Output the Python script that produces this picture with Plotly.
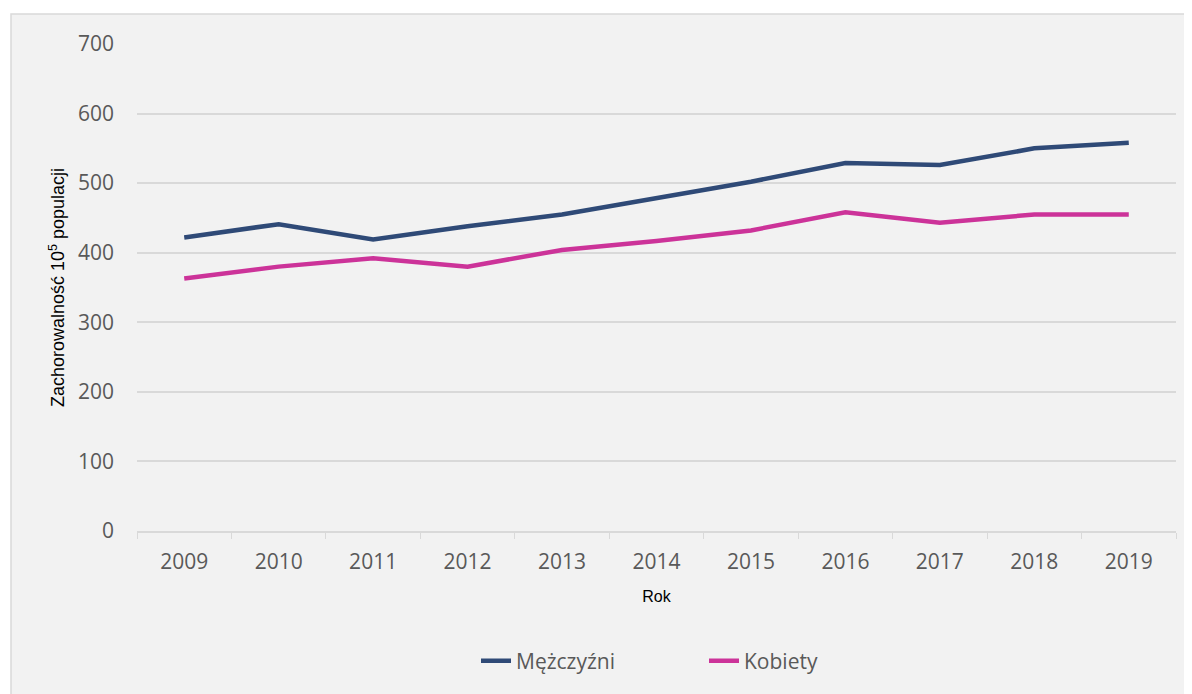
import plotly.graph_objects as go

years = ["2009", "2010", "2011", "2012", "2013", "2014", "2015", "2016", "2017", "2018", "2019"]
men = [422, 441, 419, 438, 455, 478, 502, 529, 526, 550, 558]
women = [363, 380, 392, 380, 404, 417, 432, 458, 443, 455, 455]
y_ticks = [0, 100, 200, 300, 400, 500, 600, 700]

MEN_COLOR = "#2F4A77"
WOMEN_COLOR = "#CC3399"

fig = go.Figure()
fig.add_trace(go.Scatter(x=years, y=men, mode="lines", name="Mężczyźni",
                         line=dict(color=MEN_COLOR, width=4.5)))
fig.add_trace(go.Scatter(x=years, y=women, mode="lines", name="Kobiety",
                         line=dict(color=WOMEN_COLOR, width=4.5)))

OFF = 8  # page body margin
W, H = 1192 - OFF, 694 - OFF
L, R, T, B = 137 - OFF, 16, 44 - OFF, 163
pw, ph = W - L - R, H - T - B

def px2paper_x(px):
    return (px - OFF - L) / pw

def px2paper_y(py):
    return (H - B - (py - OFF)) / ph

fig.add_shape(type="rect", xref="paper", yref="paper",
              x0=px2paper_x(11), x1=px2paper_x(1200),
              y0=px2paper_y(700), y1=px2paper_y(14),
              fillcolor="#F2F2F2", line=dict(color="#D9D9D9", width=1.5),
              layer="below")

fig.update_layout(
    width=W, height=H,
    margin=dict(l=L, r=R, t=T, b=B),
    paper_bgcolor="white",
    plot_bgcolor="rgba(0,0,0,0)",
    font=dict(family="Open Sans, Liberation Sans, sans-serif", color="#595959"),
    showlegend=True,
    legend=dict(orientation="h", x=px2paper_x(476), xanchor="left",
                y=px2paper_y(661), yanchor="middle",
                font=dict(size=21, color="#595959"),
                bgcolor="rgba(0,0,0,0)", entrywidth=183, entrywidthmode="pixels",
                tracegroupgap=0),
    xaxis=dict(
        type="category", range=[-0.5, 10.5],
        tickson="boundaries", ticks="outside", ticklen=6, tickcolor="#D9D9D9",
        showline=True, linecolor="#D9D9D9", linewidth=1.5,
        showgrid=False, zeroline=False,
        tickfont=dict(size=21, color="#595959"),
        ticklabelstandoff=11,
        title=dict(text="Rok", standoff=17,
                   font=dict(family="Liberation Sans, sans-serif", size=16, color="black")),
    ),
    yaxis=dict(
        range=[0, 700], tickvals=y_ticks,
        showgrid=True, gridcolor="#D9D9D9", gridwidth=1.5,
        zeroline=False, showline=False, ticks="",
        tickfont=dict(size=21, color="#595959"),
        ticklabelstandoff=22,
        title=dict(text="Zachorowalność 10<sup>5</sup> populacji", standoff=8,
                   font=dict(family="Liberation Sans, sans-serif", size=18, color="black")),
    ),
)

fig.write_html("out.html")
